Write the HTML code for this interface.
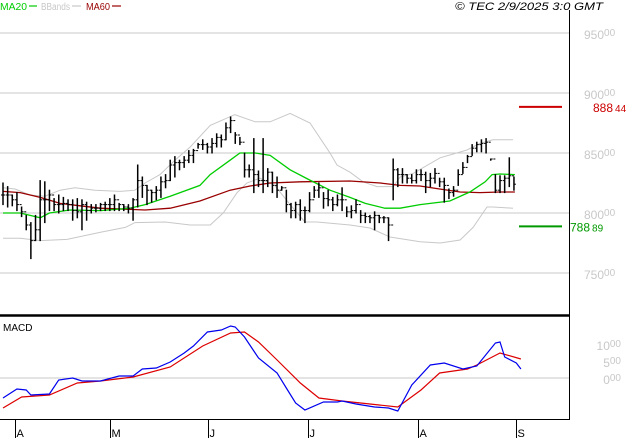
<!DOCTYPE html>
<html><head><meta charset="utf-8"><style>
html,body{margin:0;padding:0;background:#fff;}
svg{display:block;font-family:"Liberation Sans",sans-serif;}
</style></head><body>
<svg id="chart" width="627" height="440" viewBox="0 0 627 440" xmlns="http://www.w3.org/2000/svg">
<rect x="0" y="0" width="627" height="440" fill="#fff"/>
<g id="grid"></g>
<g id="bands"></g>
<g id="bars"></g>
<g id="macd"></g>
<g id="frame"></g>
<g id="labels"></g>
</svg>
<script>
// ---- data (prices in hundreds) ----
const high  = [825,822,815,817,805,798,792,798,827,826,819,812,815,813,811,811,812,811,809,807,807,808,809,812,815,808,807,807,812,840,830,823,819,822,830,832,844,847,844,847,852,853,858,861,858,862,866,865,875,880,867,863,850,840,862,835,862,837,834,830,822,819,808,809,811,805,817,822,825,817,819,813,815,821,805,806,811,802,800,798,801,798,797,796,845,837,837,832,832,836,836,834,833,837,829,829,820,822,836,842,848,857,859,861,862,845,832,831,831,846,830];
const low   = [807,805,806,802,797,786,762,777,777,792,802,802,800,802,802,794,796,786,794,800,801,802,802,802,802,802,802,800,794,805,813,807,809,811,813,821,827,830,836,838,842,842,854,853,850,850,855,855,861,867,858,857,830,830,817,822,817,822,817,813,819,801,796,796,794,792,801,813,813,804,806,802,806,802,797,796,800,792,792,792,786,792,792,777,811,822,825,825,825,825,827,817,822,825,822,809,812,814,823,833,842,848,851,851,850,844,817,817,817,822,819];
const close = [815,815,811,807,801,790,777,786,811,811,815,807,807,808,807,802,801,807,802,804,804,807,807,807,811,807,805,804,811,827,823,819,817,819,826,827,840,842,842,844,848,852,857,857,855,858,863,861,871,877,865,859,836,836,832,827,827,834,823,819,821,807,802,807,802,802,811,819,821,812,811,807,811,811,801,802,807,798,797,796,798,796,796,790,836,832,832,829,827,832,832,827,829,833,826,823,817,819,832,838,847,854,857,858,859,845,819,827,829,831,824];

const ma20Idx = [0,3.7,8,10,14.4,21,27.3,30.6,36,42.4,44.6,48.9,51,54.3,57.5,61.8,66,70.4,74.7,78,82.2,85.5,89.8,96.2,100.5,103.8,105.3,107,110.2];
const ma20Val = [800,800,796,800,802.5,802,804,807,814,823,832,844,850,850,848,836,827.5,819,813,808,804,804,807,810,817.5,826,832,832.5,832];
const ma60Idx = [0,3.7,8,12.3,16.6,21,30.6,36,42.4,48.9,53.2,57.5,64,74.7,81.2,85.5,89.8,94,98.4,102.7,107,110.2];
const ma60Val = [818,817,813,808,806,804,802.5,804,810,819,822.5,825,826,826.7,825,823,822.5,820,817.5,817,817.5,817.5];
const bbUpIdx = [0,2.6,5.8,9,12.3,15.5,19.8,25.2,28.4,30.6,33.8,37,40.3,44.6,49.9,54.3,57.5,61.8,66.1,70.4,71.9,74.7,77.5,80.5,84,85.5,88.3,94.1,99.9,102.7,105.5,109.8];
const bbUpVal = [821,820,815,814,819,821,819,818,819,825,832,844,855,873,882,876,876,883,875,850,840,834,826,822,822,830,833,846,852.5,858,861,861];
const bbLoIdx = [0,3.7,8,13.8,21,26.3,28.4,34.9,40.3,44.6,47.4,50.4,52.5,55.3,58.5,61.8,65,67.6,74.7,79,83.3,89.8,94.1,98.4,101.2,104.2,105.5,109.8];
const bbLoVal = [779,779,777,778,784,788,792,792.5,790,790,800,817,825,829,823,807,792.5,792.5,790,787.5,780,776,775,777.5,788,805,805,804];

const macdIdx = [0,3,5,6,10,12,15,17,21,25,28,30,33,36,39,41,44,47,49,50,52,55,59,61,63,65,69,72,73,76,80,83,85,88,92,95,99,102,106,107,108,110.5,111.5];
const macdVal = [-588,-323,-353,-500,-470,-59,0,-88,-88,59,59,265,294,470,735,941,1352,1411,1529,1500,1205,588,147,-294,-735,-941,-706,-706,-676,-764,-853,-882,-970,-206,382,441,265,353,1029,1058,617,441,265];
const sigIdx  = [0,4,10,16,21,28,36,43,49,52,55,59,64,68,73,81,85,90,94,100,102,107,111.5];
const sigVal  = [-882,-559,-500,-147,-88,29,323,941,1323,1352,1058,529,-147,-588,-676,-794,-853,-353,147,265,382,735,559];

const priceTicks = [950,900,850,800,750];
const macdTicks = [1000,500,0];
const monthLabels = ['A','M','J','J','A','S'];
const monthIdx = [2.6,23,44.2,65.7,89.3,110.4];
const lastMA60 = 888.44, lastMA20 = 788.89;

const NS='http://www.w3.org/2000/svg';
const X = i => 3 + 4.645*i;
const YP = v => 213 - (v - 800)*1.2;
const YM = v => 378 - v*0.034;
function el(t, a, p){const e=document.createElementNS(NS,t);for(const k in a)e.setAttribute(k,a[k]);(p||document.getElementById('chart')).appendChild(e);return e;}
const G = id => document.getElementById(id);

priceTicks.forEach((t)=>{
  const l = el('line',{x1:0,x2:569,y1:YP(t),y2:YP(t),stroke:'#c8c8c8','stroke-width':1},G('grid'));
  
  
  const tx = el('text',{x:584,y:YP(t)+6,fill:'#c8c8c8','font-size':12},G('labels'));
  
  
  tx.textContent=String(t);
  const sp=el('tspan',{dy:-3,'font-size':10},tx); sp.textContent='00';
});
{const z = el('line',{x1:0,x2:569,y1:YM(0),y2:YM(0),stroke:'#c8c8c8','stroke-width':1},G('grid'));

}
macdTicks.forEach(t=>{
  const tx = el('text',{x:621,y:YM(t)+6,fill:'#c8c8c8','font-size':12,'text-anchor':'end'},G('labels'));
  
  
  tx.textContent = String(Math.floor(t/100));
  const sp=el('tspan',{dy:-3,'font-size':10},tx); sp.textContent='00';
});

function poly(idx, val, yf, color, name, parent, w){
  const pts = idx.map((i,k)=>X(i).toFixed(1)+','+yf(val[k]).toFixed(1)).join(' ');
  const p = el('polyline',{points:pts,fill:'none',stroke:color,'stroke-width':w||1},parent);
  
  
}
poly(bbUpIdx,bbUpVal,YP,'#c8c8c8','bollinger-upper',G('bands'));
poly(bbLoIdx,bbLoVal,YP,'#c8c8c8','bollinger-lower',G('bands'));
poly(ma60Idx,ma60Val,YP,'#990000','ma60-line',G('bands'),1.3);
poly(ma20Idx,ma20Val,YP,'#00cc00','ma20-line',G('bands'),1.3);

close.forEach((c,i)=>{
  const x = X(i), o = i>0 ? close[i-1] : c;
  const g = el('g',{},G('bars'));
  
  
  el('line',{x1:x,x2:x,y1:YP(high[i])-0.5,y2:YP(low[i])+0.5,stroke:'#000','stroke-width':1.5},g);
  el('line',{x1:x-2,x2:x,y1:YP(o),y2:YP(o),stroke:'#000','stroke-width':1},g);
  el('line',{x1:x,x2:x+2,y1:YP(c),y2:YP(c),stroke:'#000','stroke-width':1},g);
});

{const m1 = el('line',{x1:519,x2:562,y1:YP(lastMA60),y2:YP(lastMA60),stroke:'#cc0000','stroke-width':2},G('labels'));


const t1 = el('text',{x:593,y:YP(lastMA60)+5,fill:'#cc0000','font-size':12},G('labels'));


t1.textContent=String(Math.floor(lastMA60));
const s1=el('tspan',{dx:2,'font-size':10},t1); s1.textContent=String(Math.round(lastMA60*100)%100);
const m2 = el('line',{x1:519,x2:562,y1:YP(lastMA20),y2:YP(lastMA20),stroke:'#009900','stroke-width':2},G('labels'));


const t2 = el('text',{x:570,y:YP(lastMA20)+5,fill:'#009900','font-size':12},G('labels'));


t2.textContent=String(Math.floor(lastMA20));
const s2=el('tspan',{dx:2,'font-size':10},t2); s2.textContent=String(Math.round(lastMA20*100)%100);}

poly(sigIdx,sigVal,YM,'#dd0000','macd-signal-line',G('macd'),1.2);
poly(macdIdx,macdVal,YM,'#0000ee','macd-line',G('macd'),1.2);

{const f=G('frame');
const a=el('line',{x1:569.5,x2:569.5,y1:10,y2:420,stroke:'#000','stroke-width':1},f);

const b=el('line',{x1:0,x2:570,y1:315.5,y2:315.5,stroke:'#000','stroke-width':2.5},f);

const c=el('line',{x1:0,x2:570,y1:419.5,y2:419.5,stroke:'#000','stroke-width':1},f);
}
monthLabels.forEach((m,k)=>{
  const x=Math.round(X(monthIdx[k]))+0.5;
  const t=el('line',{x1:x,x2:x,y1:420,y2:438,stroke:'#000','stroke-width':1},G('frame'));
  
  
  const tx=el('text',{x:x+1,y:437,'font-size':11,fill:'#000'},G('labels'));
  
  
  tx.textContent=m;
});
</script>
<svg style="position:absolute;left:0;top:0" width="627" height="20">
<text x="0" y="10" font-size="10" fill="#00cc00" font-family="Liberation Sans,sans-serif" textLength="27" lengthAdjust="spacingAndGlyphs">MA20</text>
<line x1="29" x2="37" y1="6" y2="6" stroke="#00cc00" stroke-width="1.2"/>
<text x="41" y="10" font-size="10" fill="#c8c8c8" font-family="Liberation Sans,sans-serif" textLength="29" lengthAdjust="spacingAndGlyphs">BBands</text>
<line x1="72" x2="81" y1="6" y2="6" stroke="#c8c8c8" stroke-width="1.2"/>
<text x="86" y="10" font-size="10" fill="#990000" font-family="Liberation Sans,sans-serif" textLength="24" lengthAdjust="spacingAndGlyphs">MA60</text>
<line x1="112" x2="121" y1="6" y2="6" stroke="#990000" stroke-width="1.2"/>
<text x="455" y="10" font-size="11" font-style="italic" fill="#000" font-family="Liberation Sans,sans-serif" textLength="148" lengthAdjust="spacingAndGlyphs">© TEC 2/9/2025 3:0 GMT</text>
</svg>
<svg style="position:absolute;left:0;top:316" width="60" height="20">
<text x="3" y="15" font-size="10" fill="#000" font-family="Liberation Sans,sans-serif">MACD</text>
</svg>
</body></html>
